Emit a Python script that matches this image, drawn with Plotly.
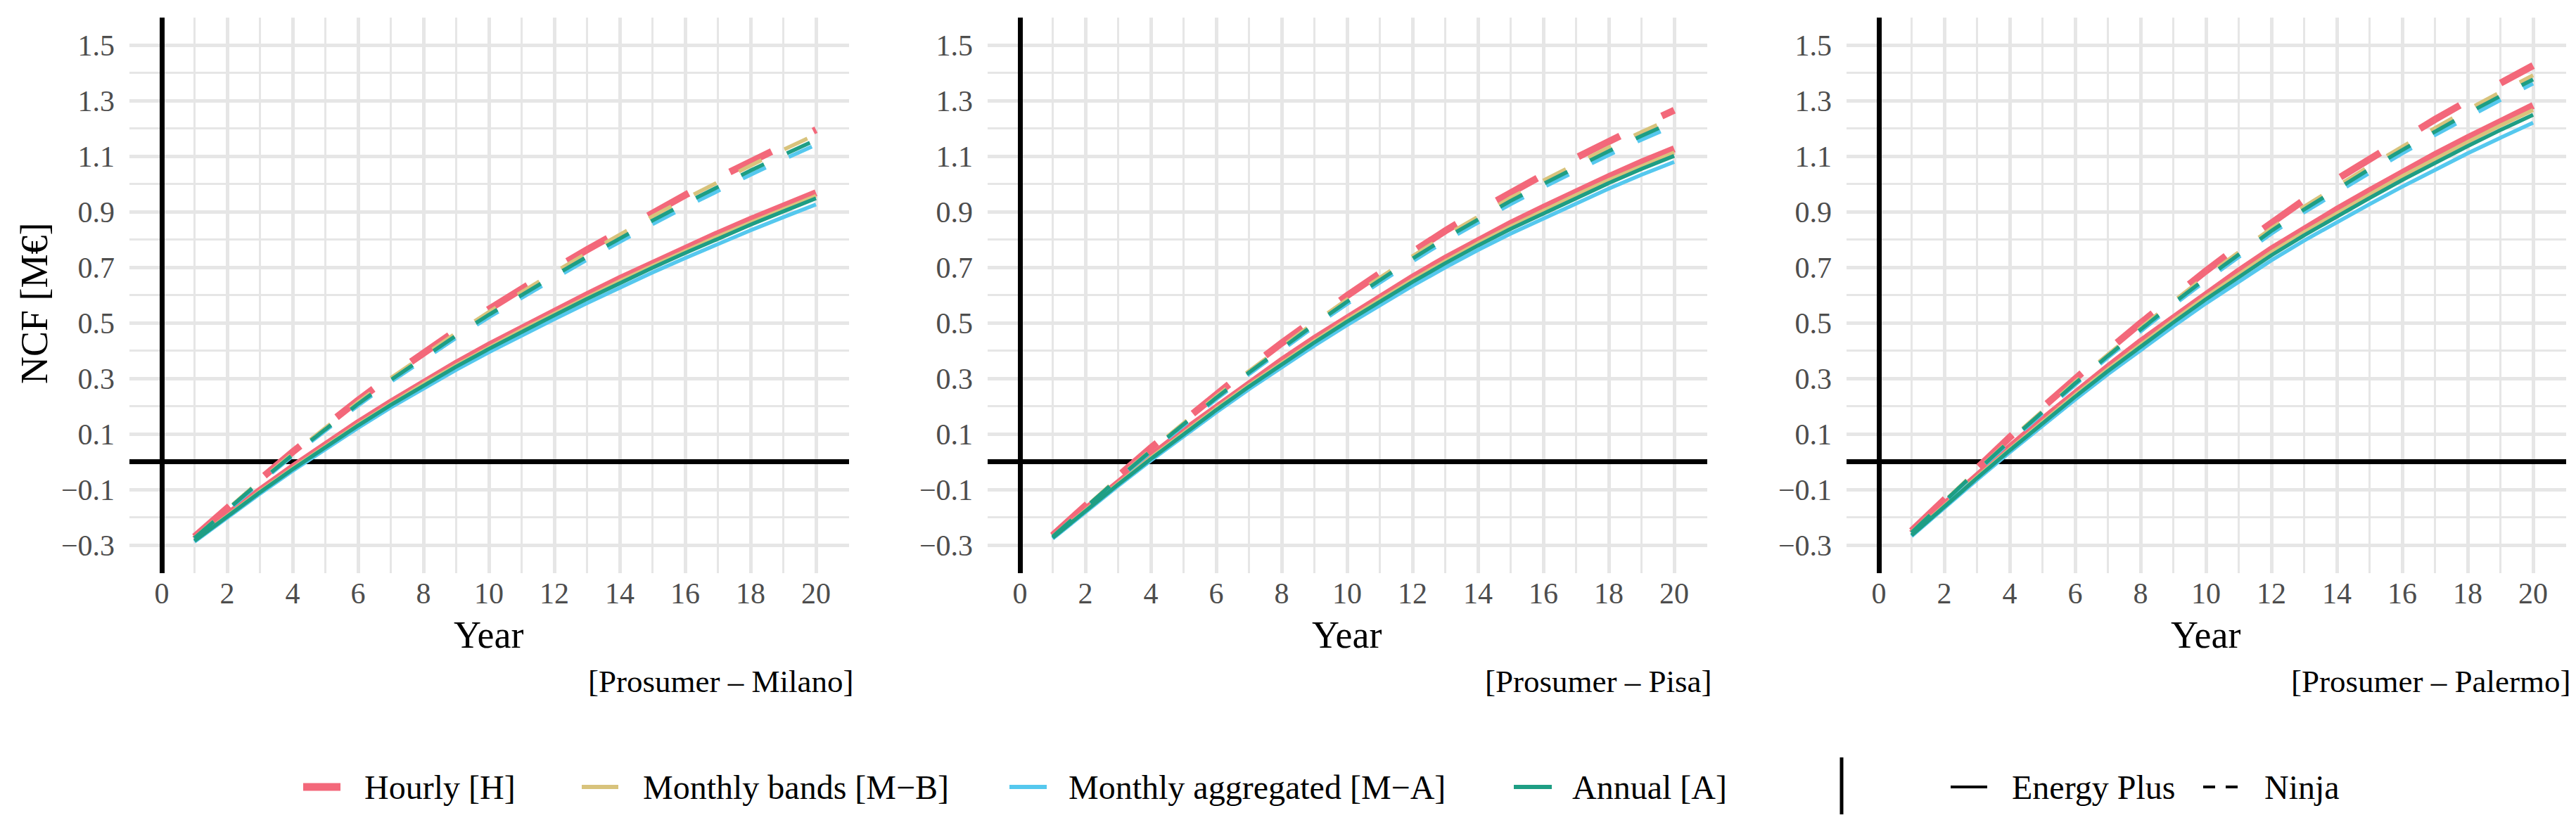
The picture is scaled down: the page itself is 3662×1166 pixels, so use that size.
import plotly.graph_objects as go

# ---------------- data ----------------
years = list(range(1, 21))
methods = ["Hourly [H]", "Monthly bands [M−B]", "Monthly aggregated [M−A]", "Annual [A]"]
sources = ["Energy Plus", "Ninja"]
captions = ["[Prosumer – Milano]", "[Prosumer – Pisa]", "[Prosumer – Palermo]"]

x_tick_vals = [0, 2, 4, 6, 8, 10, 12, 14, 16, 18, 20]
x_tick_text = ["0", "2", "4", "6", "8", "10", "12", "14", "16", "18", "20"]
x_minor_vals = [-1, 1, 3, 5, 7, 9, 11, 13, 15, 17, 19, 21]
y_tick_vals = [-0.3, -0.1, 0.1, 0.3, 0.5, 0.7, 0.9, 1.1, 1.3, 1.5]
y_tick_text = ["−0.3", "−0.1", "0.1", "0.3", "0.5", "0.7", "0.9", "1.1", "1.3", "1.5"]
y_minor_vals = [-0.4, -0.2, 0.0, 0.2, 0.4, 0.6, 0.8, 1.0, 1.2, 1.4, 1.6]

# Milano
milano_ep_h = [-0.279, -0.189, -0.103, -0.019, 0.062, 0.140, 0.214, 0.286, 0.354, 0.419, 0.481, 0.541, 0.601, 0.659, 0.714, 0.768, 0.821, 0.872, 0.920, 0.968]
milano_ep_mb = [-0.283, -0.194, -0.107, -0.024, 0.056, 0.134, 0.208, 0.280, 0.347, 0.411, 0.474, 0.533, 0.592, 0.650, 0.705, 0.759, 0.811, 0.861, 0.910, 0.957]
milano_ep_ma = [-0.288, -0.200, -0.115, -0.033, 0.046, 0.122, 0.195, 0.265, 0.331, 0.394, 0.455, 0.513, 0.571, 0.627, 0.681, 0.733, 0.784, 0.833, 0.880, 0.926]
milano_ep_a = [-0.285, -0.196, -0.110, -0.027, 0.053, 0.130, 0.204, 0.275, 0.342, 0.406, 0.468, 0.527, 0.586, 0.643, 0.698, 0.751, 0.803, 0.853, 0.901, 0.948]
milano_nj_h = [-0.270, -0.165, -0.064, 0.035, 0.130, 0.221, 0.309, 0.393, 0.472, 0.549, 0.623, 0.694, 0.763, 0.831, 0.897, 0.960, 1.022, 1.082, 1.139, 1.195]
milano_nj_mb = [-0.274, -0.170, -0.069, 0.029, 0.123, 0.214, 0.301, 0.384, 0.463, 0.539, 0.612, 0.682, 0.751, 0.818, 0.883, 0.946, 1.007, 1.066, 1.123, 1.178]
milano_nj_ma = [-0.277, -0.175, -0.076, 0.021, 0.113, 0.202, 0.287, 0.368, 0.446, 0.520, 0.591, 0.659, 0.727, 0.792, 0.855, 0.916, 0.975, 1.033, 1.088, 1.141]
milano_nj_a = [-0.275, -0.172, -0.072, 0.025, 0.118, 0.208, 0.294, 0.376, 0.454, 0.529, 0.601, 0.670, 0.738, 0.804, 0.868, 0.930, 0.990, 1.048, 1.104, 1.158]

# Pisa
pisa_ep_h = [-0.268, -0.170, -0.074, 0.019, 0.110, 0.197, 0.282, 0.364, 0.443, 0.519, 0.593, 0.664, 0.732, 0.797, 0.858, 0.915, 0.972, 1.026, 1.078, 1.126]
pisa_ep_mb = [-0.272, -0.174, -0.079, 0.014, 0.104, 0.191, 0.275, 0.357, 0.435, 0.511, 0.584, 0.655, 0.722, 0.787, 0.847, 0.904, 0.960, 1.014, 1.065, 1.113]
pisa_ep_ma = [-0.277, -0.181, -0.087, 0.004, 0.093, 0.178, 0.261, 0.341, 0.418, 0.492, 0.564, 0.633, 0.699, 0.762, 0.821, 0.876, 0.931, 0.983, 1.033, 1.079]
pisa_ep_a = [-0.274, -0.177, -0.082, 0.010, 0.100, 0.186, 0.270, 0.351, 0.429, 0.504, 0.577, 0.647, 0.714, 0.778, 0.838, 0.894, 0.950, 1.003, 1.054, 1.101]
pisa_nj_h = [-0.265, -0.157, -0.052, 0.050, 0.148, 0.244, 0.337, 0.427, 0.514, 0.598, 0.678, 0.756, 0.831, 0.902, 0.970, 1.033, 1.094, 1.154, 1.211, 1.265]
pisa_nj_mb = [-0.269, -0.162, -0.059, 0.042, 0.140, 0.235, 0.326, 0.415, 0.501, 0.584, 0.663, 0.740, 0.814, 0.884, 0.950, 1.012, 1.073, 1.132, 1.187, 1.240]
pisa_nj_ma = [-0.272, -0.167, -0.064, 0.035, 0.131, 0.225, 0.315, 0.402, 0.487, 0.568, 0.646, 0.721, 0.794, 0.862, 0.927, 0.988, 1.047, 1.104, 1.159, 1.210]
pisa_nj_a = [-0.270, -0.164, -0.061, 0.039, 0.136, 0.230, 0.321, 0.409, 0.494, 0.576, 0.655, 0.731, 0.804, 0.873, 0.939, 1.000, 1.060, 1.118, 1.173, 1.225]

# Palermo
palermo_ep_h = [-0.258, -0.153, -0.049, 0.052, 0.151, 0.248, 0.341, 0.432, 0.519, 0.604, 0.686, 0.765, 0.838, 0.908, 0.975, 1.042, 1.105, 1.166, 1.226, 1.282]
palermo_ep_mb = [-0.263, -0.158, -0.055, 0.045, 0.144, 0.240, 0.333, 0.423, 0.509, 0.594, 0.675, 0.754, 0.826, 0.895, 0.962, 1.028, 1.091, 1.151, 1.210, 1.266]
palermo_ep_ma = [-0.268, -0.165, -0.065, 0.034, 0.131, 0.224, 0.315, 0.402, 0.487, 0.570, 0.648, 0.725, 0.796, 0.862, 0.927, 0.990, 1.051, 1.110, 1.166, 1.220]
palermo_ep_a = [-0.265, -0.161, -0.059, 0.041, 0.139, 0.234, 0.326, 0.415, 0.501, 0.585, 0.665, 0.743, 0.815, 0.883, 0.949, 1.014, 1.076, 1.136, 1.194, 1.249]
palermo_nj_h = [-0.249, -0.135, -0.022, 0.088, 0.195, 0.300, 0.401, 0.499, 0.595, 0.687, 0.776, 0.862, 0.942, 1.017, 1.091, 1.163, 1.232, 1.299, 1.364, 1.426]
palermo_nj_mb = [-0.254, -0.141, -0.031, 0.078, 0.184, 0.287, 0.386, 0.483, 0.577, 0.668, 0.755, 0.840, 0.918, 0.992, 1.064, 1.134, 1.202, 1.268, 1.330, 1.391]
palermo_nj_ma = [-0.257, -0.146, -0.036, 0.071, 0.175, 0.277, 0.375, 0.470, 0.563, 0.652, 0.738, 0.821, 0.898, 0.970, 1.041, 1.110, 1.176, 1.240, 1.302, 1.361]
palermo_nj_a = [-0.255, -0.143, -0.033, 0.075, 0.180, 0.282, 0.381, 0.477, 0.570, 0.660, 0.747, 0.831, 0.908, 0.981, 1.053, 1.122, 1.189, 1.254, 1.316, 1.376]

panels = [
    {"Energy Plus": [milano_ep_h, milano_ep_mb, milano_ep_ma, milano_ep_a],
     "Ninja": [milano_nj_h, milano_nj_mb, milano_nj_ma, milano_nj_a]},
    {"Energy Plus": [pisa_ep_h, pisa_ep_mb, pisa_ep_ma, pisa_ep_a],
     "Ninja": [pisa_nj_h, pisa_nj_mb, pisa_nj_ma, pisa_nj_a]},
    {"Energy Plus": [palermo_ep_h, palermo_ep_mb, palermo_ep_ma, palermo_ep_a],
     "Ninja": [palermo_nj_h, palermo_nj_mb, palermo_nj_ma, palermo_nj_a]},
]

# ---------------- styling ----------------
W, H = 3662, 1166
FONT = "Liberation Serif"
colors = ["#F3687A", "#D8C37C", "#55C8EE", "#1E9E84"]
widths = [10, 5.5, 5.5, 5.5]
dashes = {"Energy Plus": ["solid"] * 4,
          "Ninja": ["66px,66px", "36px,36px", "36px,36px", "36px,36px"]}
GRID = "#e6e6e6"
CLEAR = "rgba(0,0,0,0)"

# panel pixel geometry
panel_left = [175.5, 1395.5, 2616.5]
panel_width = 1023.0
panel_top, panel_bottom = 16.5, 806.5


def px(x):
    return x / W


def py(y):
    return 1 - y / H


fig = go.Figure()

for i, pdata in enumerate(panels):
    ax = "" if i == 0 else str(i + 1)
    for m in range(4):
        for s in sources:
            fig.add_trace(go.Scatter(
                x=years, y=pdata[s][m], mode="lines",
                line=dict(color=colors[m], width=widths[m], dash=dashes[s][m]),
                xaxis="x" + ax, yaxis="y" + ax, showlegend=False,
                name=f"{methods[m]} – {s}",
            ))

    xa = dict(
        domain=[px(panel_left[i]), px(panel_left[i] + panel_width)],
        range=[-1, 21], anchor="y" + ax, automargin=False,
        tickmode="array", tickvals=x_tick_vals, ticktext=x_tick_text,
        ticks="", showline=False,
        showgrid=True, gridcolor=GRID, gridwidth=5,
        minor=dict(tickmode="array", tickvals=x_minor_vals, showgrid=True,
                   gridcolor=GRID, gridwidth=2.7, ticks=""),
        zeroline=True, zerolinecolor="black", zerolinewidth=6.5,
        tickfont=dict(family=FONT, size=42, color="#4d4d4d"),
        fixedrange=True,
    )
    ya = dict(
        domain=[py(panel_bottom), py(panel_top)],
        range=[-0.4, 1.6], anchor="x" + ax, automargin=False,
        tickmode="array", tickvals=y_tick_vals, ticktext=y_tick_text,
        ticks="outside", ticklen=11, tickcolor=CLEAR, showline=False,
        showgrid=True, gridcolor=GRID, gridwidth=5,
        minor=dict(tickmode="array", tickvals=y_minor_vals, showgrid=True,
                   gridcolor=GRID, gridwidth=2.7, ticks=""),
        zeroline=True, zerolinecolor="black", zerolinewidth=6.5,
        tickfont=dict(family=FONT, size=42, color="#4d4d4d"),
        fixedrange=True,
    )
    fig.layout["xaxis" + ax] = xa
    fig.layout["yaxis" + ax] = ya

annotations = []
shapes = []

for i in range(3):
    cx = panel_left[i] + panel_width / 2
    annotations.append(dict(text="Year", x=px(cx), y=py(895), xref="paper", yref="paper",
                            xanchor="center", yanchor="middle", showarrow=False,
                            font=dict(family=FONT, size=54, color="black")))
    annotations.append(dict(text=captions[i], x=px(panel_left[i] + panel_width + 8), y=py(961),
                            xref="paper", yref="paper", xanchor="right", yanchor="middle",
                            showarrow=False, font=dict(family=FONT, size=45, color="black")))

annotations.append(dict(text="NCF [M€]", x=px(41), y=py(423), xref="paper", yref="paper",
                        xanchor="center", yanchor="middle", textangle=-90, showarrow=False,
                        font=dict(family=FONT, size=54, color="black")))

# legend (manual)
LEG_Y = 1111
leg_y = py(LEG_Y)
key_x = [(423, 476), (819, 871), (1427, 1480), (2144, 2198)]
text_x = [509, 905, 1510, 2226]
key_w = [11, 6, 6, 6]
for m in range(4):
    shapes.append(dict(type="line", xref="paper", yref="paper",
                       x0=px(key_x[m][0]), x1=px(key_x[m][1]), y0=leg_y, y1=leg_y,
                       line=dict(color=colors[m], width=key_w[m])))
    annotations.append(dict(text=methods[m], x=px(text_x[m]), y=leg_y, xref="paper", yref="paper",
                            xanchor="left", yanchor="middle", showarrow=False, borderpad=0,
                            font=dict(family=FONT, size=48, color="black")))

shapes.append(dict(type="line", xref="paper", yref="paper",
                   x0=px(2610), x1=px(2610), y0=py(1069), y1=py(1150),
                   line=dict(color="black", width=5)))
src_key = [(2765, 2817, "solid"), (3124, 3173, "17px,15px")]
src_text_x = [2851, 3210]
for k in range(2):
    shapes.append(dict(type="line", xref="paper", yref="paper",
                       x0=px(src_key[k][0]), x1=px(src_key[k][1]), y0=leg_y, y1=leg_y,
                       line=dict(color="black", width=4, dash=src_key[k][2])))
    annotations.append(dict(text=sources[k], x=px(src_text_x[k]), y=leg_y, xref="paper", yref="paper",
                            xanchor="left", yanchor="middle", showarrow=False, borderpad=0,
                            font=dict(family=FONT, size=48, color="black")))

fig.update_layout(
    width=W, height=H,
    margin=dict(l=0, r=0, t=0, b=0, pad=0, autoexpand=False),
    paper_bgcolor="white", plot_bgcolor="white",
    showlegend=False,
    annotations=annotations, shapes=shapes,
    font=dict(family=FONT),
)

fig.write_html("out.html")
